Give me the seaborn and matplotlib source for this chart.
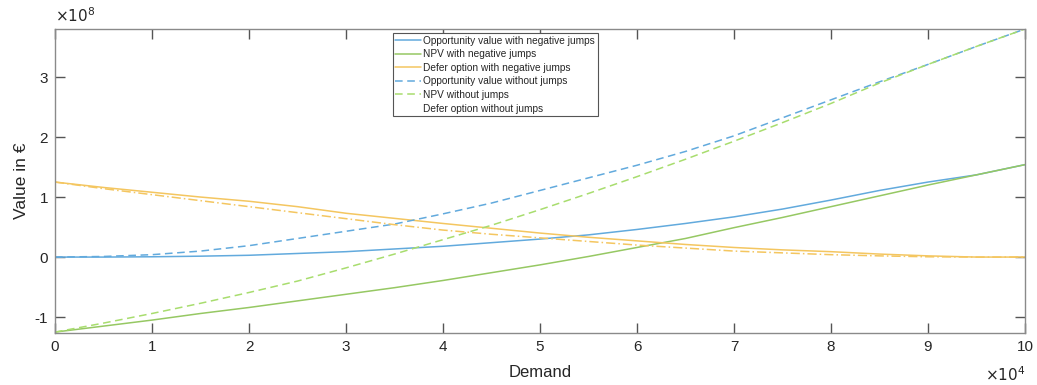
import numpy as np
import pandas as pd
import matplotlib
matplotlib.use("Agg")
import matplotlib.pyplot as plt
import seaborn as sns

# ---- data (demand in units of 1e4, values in units of 1e8 EUR) ----
demand = [0, 0.5, 1, 1.5, 2, 2.5, 3, 3.5, 4, 4.5, 5, 5.5, 6, 6.5, 7, 7.5, 8, 8.5, 9, 9.5, 10]

opp_neg = [0.0, 0.0, 0.005, 0.015, 0.03, 0.06, 0.09, 0.135, 0.18, 0.24, 0.30, 0.37, 0.46, 0.56,
           0.67, 0.80, 0.95, 1.11, 1.25, 1.37, 1.54]
npv_neg = [-1.25, -1.15, -1.05, -0.94, -0.84, -0.73, -0.62, -0.51, -0.39, -0.26, -0.13, 0.01,
           0.16, 0.31, 0.49, 0.66, 0.84, 1.02, 1.20, 1.37, 1.54]
defer_neg = [1.25, 1.16, 1.08, 1.00, 0.93, 0.84, 0.73, 0.645, 0.56, 0.48, 0.40, 0.33, 0.27,
             0.21, 0.16, 0.12, 0.09, 0.05, 0.02, 0.0, 0.0]
opp_nojump = [0.0, 0.01, 0.04, 0.10, 0.19, 0.31, 0.43, 0.55, 0.72, 0.90, 1.11, 1.32, 1.53, 1.76,
              2.02, 2.32, 2.62, 2.92, 3.21, 3.51, 3.80]
npv_nojump = [-1.25, -1.10, -0.94, -0.77, -0.59, -0.40, -0.18, 0.05, 0.29, 0.53, 0.79, 1.06,
              1.34, 1.63, 1.93, 2.24, 2.56, 2.90, 3.21, 3.51, 3.80]
defer_nojump = [1.25, 1.14, 1.04, 0.94, 0.84, 0.74, 0.64, 0.54, 0.45, 0.38, 0.32, 0.26, 0.20,
                0.15, 0.10, 0.07, 0.04, 0.02, 0.005, 0.0, 0.0]

labels = ["Opportunity value with negative jumps",
          "NPV with negative jumps",
          "Defer option with negative jumps",
          "Opportunity value without jumps",
          "NPV without jumps",
          "Defer option without jumps"]
xticks = [0, 1, 2, 3, 4, 5, 6, 7, 8, 9, 10]
yticks = [-1, 0, 1, 2, 3]

series = [opp_neg, npv_neg, defer_neg, opp_nojump, npv_nojump, defer_nojump]
df = pd.concat([pd.DataFrame({"Demand": demand, "Value": v, "Series": lab})
                for v, lab in zip(series, labels)], ignore_index=True)

sns.set_style("white")
plt.rcParams["font.family"] = ["Liberation Sans", "DejaVu Sans"]

colors = ["#62aadd", "#96c863", "#f4c660", "#62aadd", "#a8dd6e", "#f4c660"]
styles = [(None, None), (None, None), (None, None), (5, 3), (5, 3), (6, 2, 1, 2)]

fig = plt.figure(figsize=(10.37, 3.85), dpi=100)
ax = fig.add_axes([55/1037, 52/385, 970/1037, 304/385])

for lab, col, ds in zip(labels, colors, styles):
    sub = df[df["Series"] == lab]
    sns.lineplot(data=sub, x="Demand", y="Value", ax=ax, color=col, lw=1.1,
                 label=lab, legend=False)
    ln = ax.lines[-1]
    if ds[0] is not None:
        ln.set_dashes(ds)

ax.set_xlim(0, 10)
ax.set_ylim(-1.265, 3.8)
ax.set_xticks(xticks)
ax.set_yticks(yticks)
ax.set_xticklabels([str(t) for t in xticks])
ax.set_yticklabels([str(t) for t in yticks])

for s in ax.spines.values():
    s.set_color("#8a8a8a")
    s.set_linewidth(1.0)
ax.tick_params(direction="in", length=7, width=1.0, color="#555555",
               labelsize=11, labelcolor="#262626", top=True, right=True,
               bottom=True, left=True, pad=5)

ax.set_xlabel("Demand", fontsize=12, color="#262626", labelpad=8)
ax.set_ylabel("Value in €", fontsize=12.5, color="#262626", labelpad=4)

ax.text(0.0, 1.012, r"$\times10^{8}$", transform=ax.transAxes, fontsize=11,
        color="#262626", ha="left", va="bottom")
ax.text(1.0, -0.105, r"$\times10^{4}$", transform=ax.transAxes, fontsize=11,
        color="#262626", ha="right", va="top")

handles = ax.lines[:6]
leg = ax.legend(handles, labels, loc="upper left", bbox_to_anchor=(0.348, 0.986),
                fontsize=7.3, frameon=True, fancybox=False, framealpha=1,
                edgecolor="#555555", handlelength=2.6, handletextpad=0.2,
                labelspacing=0.35, borderpad=0.25, borderaxespad=0)
leg.get_frame().set_linewidth(0.8)
leg.legend_handles[5].set_alpha(0)

fig.savefig("out.png", dpi=100)
